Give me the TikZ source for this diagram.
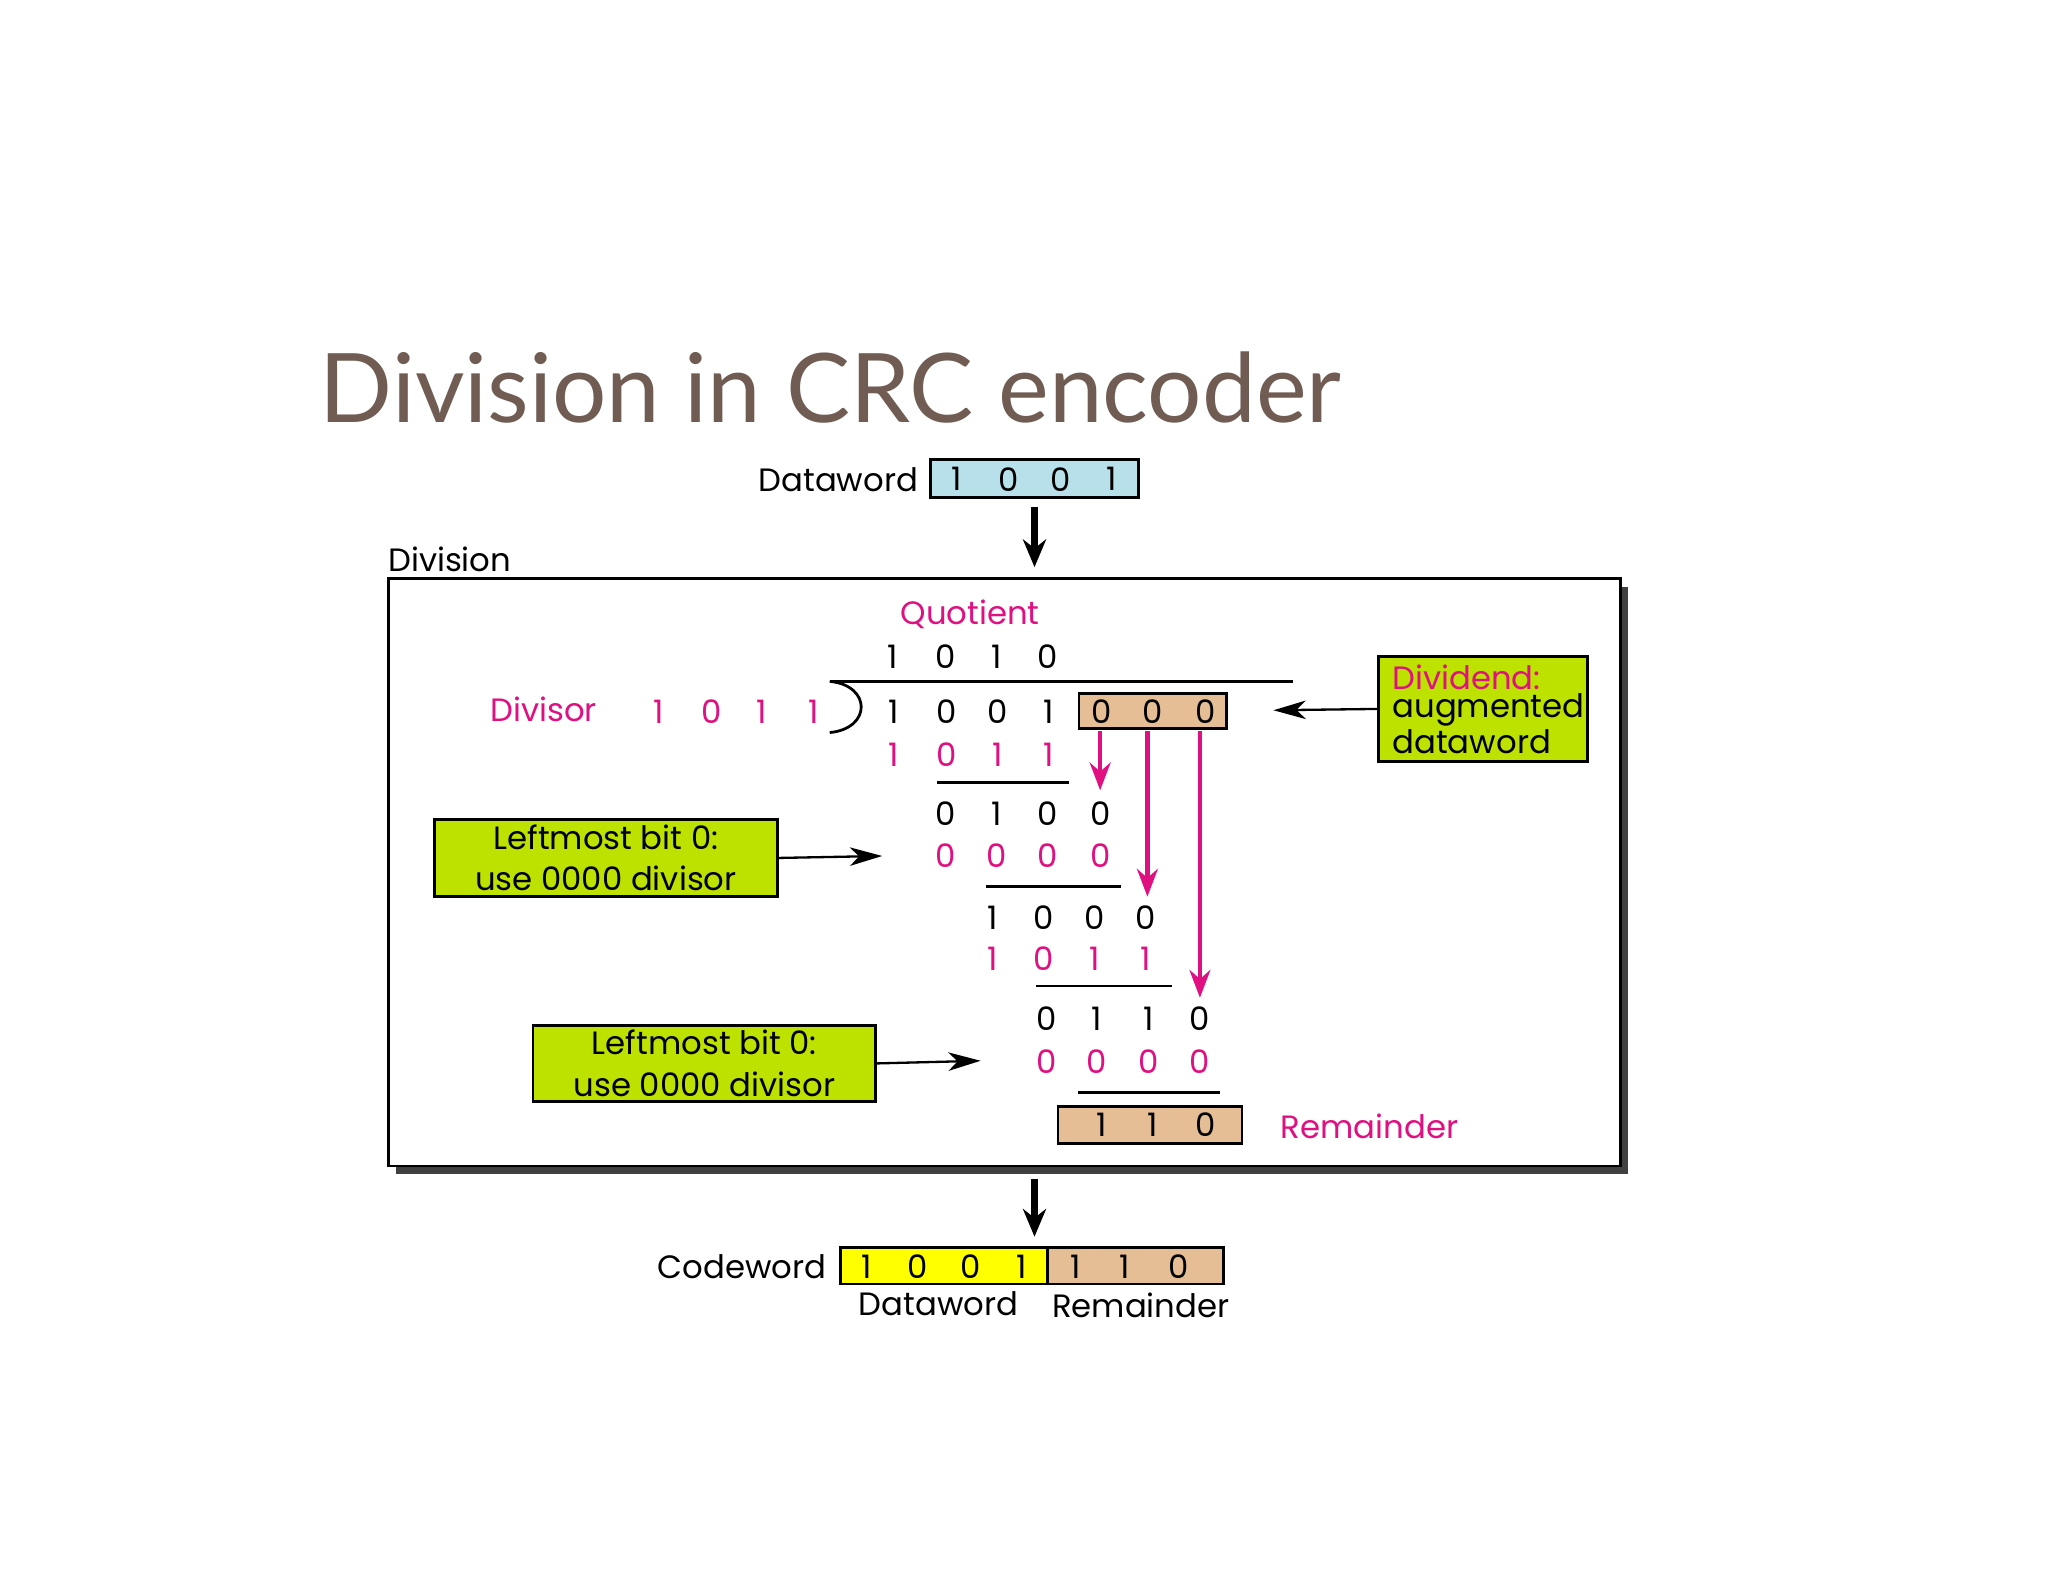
\documentclass[tikz,border=0pt]{standalone}
\usepackage{fontspec}
\setmainfont{Poppins}
\newfontfamily\titlefont{Lato}
\usetikzlibrary{arrows.meta}
\definecolor{pk}{RGB}{224,16,128}
\definecolor{lblue}{RGB}{184,224,234}
\definecolor{tan}{RGB}{230,190,150}
\definecolor{lgreen}{RGB}{190,226,0}
\definecolor{yel}{RGB}{255,255,0}
\definecolor{ttl}{RGB}{112,92,82}
\tikzset{
 t/.style={inner sep=0pt,font=\fontsize{7}{8}\selectfont},
 p/.style={t,text=pk},
 box/.style={draw,line width=0.6pt,inner sep=0pt},
 gbox/.style={box,fill=lgreen},
 thick arrow/.style={-{Stealth[length=6pt,width=5pt]},line width=1.4pt},
 thin arrow/.style={-{Stealth[length=7pt,width=4pt,inset=2pt]},line width=0.5pt},
 pk arrow/.style={-{Stealth[length=6pt,width=4.5pt]},line width=1pt,draw=pk},
 rule/.style={line width=0.6pt}
}
\begin{document}
\begin{tikzpicture}[x=0.01cm,y=-0.01cm]
\useasboundingbox (0,0) rectangle (1560,1205);
\node[anchor=base west,inner sep=0pt,text=ttl,font=\titlefont\fontsize{20.8}{24}\selectfont] (title) at (243,322) {Division in CRC encoder};
% dataword
\node[box,fill=lblue,minimum width=1.58cm,minimum height=0.29cm] (dwbox) at (788,364.5) {};
\node[t,anchor=east] (dwl) at (700,365) {Dataword};
\foreach \x/\d [count=\i] in {729/1,768/0,808/0,847/1} \node[t] (dw\i) at (\x,365) {\d};
\coordinate (dwb) at (788,386);
\coordinate (dwa) at (788,432);
\draw[thick arrow] (dwb) -- (dwa);
% division box
\node[t,anchor=west] (divl) at (295,426) {Division};
\fill[black!75] (302,447) rectangle (1240,894);
\node[box,fill=white,minimum width=9.38cm,minimum height=4.47cm] (divbox) at (765,664.5) {};
\node[p] (quot) at (739,468) {Quotient};
\foreach \x/\d [count=\i] in {680/1,720/0,759/1,798/0} \node[t] (q\i) at (\x,500) {\d};
\draw[rule] (632,519) -- (985,519);
\draw[rule] (632,519) .. controls (664,522) and (664,555) .. (632,558);
\node[p] (divisor) at (414,540) {Divisor};
\foreach \x/\d [count=\i] in {502/1,542/0,580/1,620/1} \node[p] (dv\i) at (\x,542) {\d};
\node[box,fill=tan,minimum width=1.12cm,minimum height=0.27cm] (augbox) at (878,541.5) {};
\foreach \x/\d [count=\i] in {681/1,721/0,760/0,799/1,839/0,878/0,918/0} \node[t] (dd\i) at (\x,542) {\d};
% dividend note
\node[gbox,minimum width=1.59cm,minimum height=0.80cm] (dnote) at (1129.5,540) {};
\node[p,anchor=west] (dn1) at (1060,516) {Dividend:};
\node[t,anchor=west] (dn2) at (1060,541) {augmented};
\node[t,anchor=west] (dn3) at (1060,565) {dataword};
\coordinate (dnt) at (970,541);
\draw[thin arrow] (dnote.west) -- (dnt);
% rows
\foreach \x/\d [count=\i] in {681/1,721/0,760/1,799/1} \node[p] (r1\i) at (\x,575) {\d};
\draw[rule] (714,596) -- (814,596);
\foreach \x/\d [count=\i] in {720/0,759/1,798/0,838/0} \node[t] (r2\i) at (\x,620) {\d};
\foreach \x/\d [count=\i] in {720/0,759/0,798/0,838/0} \node[p] (r3\i) at (\x,652) {\d};
\draw[rule] (751,675) -- (854,675);
\foreach \x/\d [count=\i] in {756/1,795/0,834/0,873/0} \node[t] (r4\i) at (\x,699) {\d};
\foreach \x/\d [count=\i] in {756/1,795/0,834/1,873/1} \node[p] (r5\i) at (\x,730) {\d};
\draw[rule] (789,751) -- (893,751);
\foreach \x/\d [count=\i] in {797/0,835/1,875/1,914/0} \node[t] (r6\i) at (\x,776) {\d};
\foreach \x/\d [count=\i] in {797/0,835/0,875/0,914/0} \node[p] (r7\i) at (\x,809) {\d};
\draw[rule] (821,832) -- (929,832);
% pink arrows
\coordinate (pa1) at (838,602); \coordinate (pa2) at (874,683); \coordinate (pa3) at (914,760);
\draw[pk arrow] (838,557) -- (pa1);
\draw[pk arrow] (874,557) -- (pa2);
\draw[pk arrow] (914,557) -- (pa3);
% notes
\node[gbox,minimum width=2.61cm,minimum height=0.59cm,align=center,font=\fontsize{7}{9}\selectfont] (n1) at (461.5,653.5) {Leftmost bit 0:\\use 0000 divisor};
\coordinate (n1a) at (672,652);
\draw[thin arrow] (n1.east) -- (n1a);
\node[gbox,minimum width=2.61cm,minimum height=0.58cm,align=center,font=\fontsize{7}{9}\selectfont] (n2) at (536.5,810) {Leftmost bit 0:\\use 0000 divisor};
\coordinate (n2a) at (747,808);
\draw[thin arrow] (n2.east) -- (n2a);
% remainder
\node[box,fill=tan,minimum width=1.40cm,minimum height=0.28cm] (rembox) at (876,857) {};
\foreach \x/\d [count=\i] in {839/1,878/1,918/0} \node[t] (rm\i) at (\x,857) {\d};
\node[p,anchor=west] (reml) at (975,858) {Remainder};
% codeword
\coordinate (cwt) at (788,898); \coordinate (cwa) at (788,942);
\draw[thick arrow] (cwt) -- (cwa);
\node[t,anchor=east] (cwl) at (630,965) {Codeword};
\node[box,fill=yel,minimum width=1.58cm,minimum height=0.28cm] (cwy) at (719,964) {};
\node[box,fill=tan,minimum width=1.34cm,minimum height=0.28cm] (cwr) at (865,964) {};
\foreach \x/\d [count=\i] in {660/1,699/0,739/0,778/1,819/1,857/1,898/0} \node[t] (cw\i) at (\x,965) {\d};
\node[t] (cwdl) at (715,993) {Dataword};
\node[t] (cwrl) at (869,994) {Remainder};
\end{tikzpicture}
\end{document}
